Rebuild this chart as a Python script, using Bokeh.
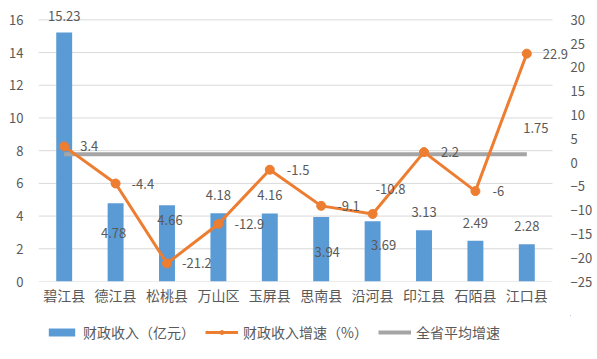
from bokeh.plotting import figure
from bokeh.layouts import column
from bokeh.models import Range1d, LinearAxis, Legend, LegendItem, ColumnDataSource, FixedTicker
from bokeh.core.properties import value
from bokeh.embed import file_html
from bokeh.resources import INLINE

counties = ["碧江县", "德江县", "松桃县", "万山区", "玉屏县", "思南县", "沿河县", "印江县", "石陌县", "江口县"]
revenue = [15.23, 4.78, 4.66, 4.18, 4.16, 3.94, 3.69, 3.13, 2.49, 2.28]
growth = [3.4, -4.4, -21.2, -12.9, -1.5, -9.1, -10.8, 2.2, -6, 22.9]
province_avg = 1.75
left_ticks = [0, 2, 4, 6, 8, 10, 12, 14, 16]
right_ticks = [-25, -20, -15, -10, -5, 0, 5, 10, 15, 20, 25, 30]
legend_labels = ["财政收入（亿元）", "财政收入增速（%）", "全省平均增速"]

# label placement (screen px), layout only
bar_dx = [0, -2, 3, 0, 0, 6, 11, 0, 0, 0]
bar_dy = [-16, 30, 15, -18, -18, 35, 24, -18, -18, -18]
line_dx = [16, 16, 15, 16, 17, 16, 3, 17, 17, 16]
line_dy = [0, 0, 0, 0, 0, 0, -25, 0, 0, 0]

FONT = "Noto Sans CJK SC"
TXT = "#595959"
GRID = "#D9D9D9"
BLUE, ORANGE, GRAY = "#5B9BD5", "#ED7D31", "#A5A5A5"

n = len(counties)
idx = list(range(n))
src = ColumnDataSource(dict(
    x=idx, rev=revenue, gr=growth,
    rev_lbl=[f"{v:g}" for v in revenue], gr_lbl=[f"{v:g}" for v in growth],
    avg=[province_avg] * n,
    bdx=bar_dx, bdy=bar_dy, ldx=line_dx, ldy=line_dy,
))

top_extra = 1.0
lo_l, hi_l = left_ticks[0], left_ticks[-1]
lo_r, hi_r = right_ticks[0], right_ticks[-1]
scale = (hi_r - lo_r) / (hi_l - lo_l)

W = 595
p = figure(width=W, height=315, x_range=Range1d(-0.5, n - 0.5 + 0.35), y_range=Range1d(lo_l, hi_l + top_extra),
           output_backend="svg", toolbar_location=None,
           min_border_left=38, min_border_right=24, min_border_top=3, min_border_bottom=34)
p.extra_y_ranges = {"right": Range1d(lo_r, hi_r + top_extra * scale)}
p.outline_line_color = None
p.xgrid.grid_line_color = None
p.ygrid.grid_line_color = None

# horizontal gridlines spanning the category band only
p.segment(x0=[-0.5] * len(left_ticks), x1=[n - 0.5] * len(left_ticks), y0=left_ticks, y1=left_ticks,
          line_color=GRID, line_width=1)

ya = p.yaxis[0]
ya.ticker = FixedTicker(ticks=left_ticks)
ya.axis_line_color = None
ya.major_tick_line_color = None
ya.minor_tick_line_color = None
ya.major_label_text_font = FONT
ya.major_label_text_font_size = "13px"
ya.major_label_text_color = TXT
ya.major_label_standoff = 9

rax = LinearAxis(y_range_name="right", ticker=FixedTicker(ticks=right_ticks))
rax.axis_line_color = None
rax.major_tick_line_color = None
rax.minor_tick_line_color = None
rax.major_label_text_font = FONT
rax.major_label_text_font_size = "13px"
rax.major_label_text_color = TXT
rax.major_label_standoff = -6
p.add_layout(rax, "right")

xa = p.xaxis[0]
xa.ticker = FixedTicker(ticks=idx)
xa.major_label_overrides = {i: c for i, c in enumerate(counties)}
xa.axis_line_color = None
xa.major_tick_line_color = None
xa.minor_tick_line_color = None
xa.major_label_text_font = FONT
xa.major_label_text_font_size = "14px"
xa.major_label_text_color = TXT
xa.major_label_standoff = -3

p.vbar(x="x", top="rev", width=0.31, source=src, fill_color=BLUE, line_color=None)
p.line(x="x", y="avg", source=src, y_range_name="right", line_color=GRAY, line_width=4)
p.line(x="x", y="gr", source=src, y_range_name="right", line_color=ORANGE, line_width=3)
p.scatter(x="x", y="gr", source=src, y_range_name="right", size=9, fill_color=ORANGE, line_color=ORANGE)

p.text(x="x", y="rev", text="rev_lbl", source=src, x_offset="bdx", y_offset="bdy",
       text_align="center", text_baseline="middle", text_font=value(FONT), text_font_size="13px", text_color=TXT)
p.text(x="x", y="gr", text="gr_lbl", source=src, x_offset="ldx", y_offset="ldy", y_range_name="right",
       text_align="left", text_baseline="middle", text_font=value(FONT), text_font_size="13px", text_color=TXT)
p.text(x=[idx[-1]], y=[province_avg], text=[f"{province_avg:g}"], y_range_name="right",
       x_offset=9, y_offset=-26, text_align="center", text_baseline="middle",
       text_font=value(FONT), text_font_size="13px", text_color=TXT)

# legend strip below the chart (its glyphs sit outside the strip's visible range)
q = figure(width=W, height=36, x_range=Range1d(-100, -99), y_range=Range1d(-100, -99),
           output_backend="svg", toolbar_location=None, x_axis_type=None, y_axis_type=None,
           min_border_left=0, min_border_right=0, min_border_top=0, min_border_bottom=0)
q.outline_line_color = None
q.xgrid.grid_line_color = None
q.ygrid.grid_line_color = None
lb = q.vbar(x="x", top="rev", width=0.31, source=src, fill_color=BLUE, line_color=None)
ll = q.line(x="x", y="gr", source=src, line_color=ORANGE, line_width=3)
ls = q.scatter(x="x", y="gr", source=src, size=9, fill_color=ORANGE, line_color=ORANGE)
lg = q.line(x="x", y="avg", source=src, line_color=GRAY, line_width=4)

legend = Legend(items=[
    LegendItem(label=legend_labels[0], renderers=[lb]),
    LegendItem(label=legend_labels[1], renderers=[ll, ls]),
    LegendItem(label=legend_labels[2], renderers=[lg]),
], orientation="horizontal", location=(7, 9),
    label_text_font=FONT, label_text_font_size="14px", label_text_color=TXT,
    glyph_width=33, glyph_height=10, label_standoff=5, spacing=10,
    border_line_color=None, background_fill_alpha=0, padding=4, margin=0)
q.add_layout(legend)

layout = column(p, q, spacing=0)
open("out.html", "w").write(file_html(layout, INLINE))
